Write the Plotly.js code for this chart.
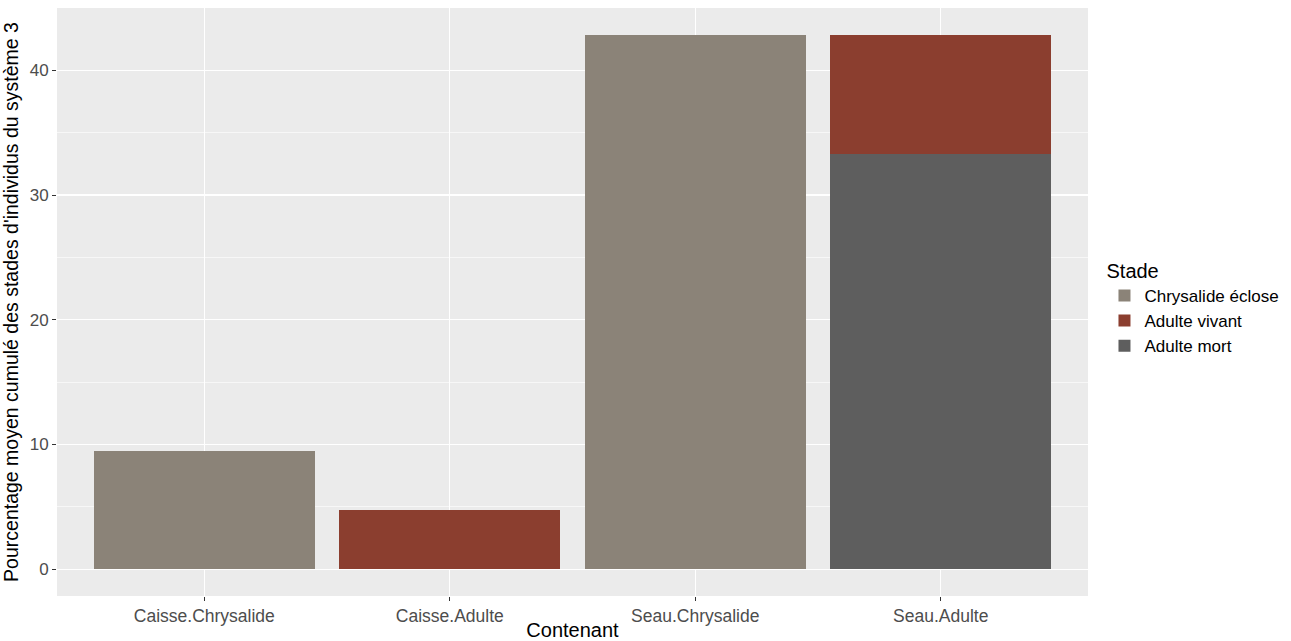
<!DOCTYPE html>
<html><head><meta charset="utf-8">
<script src="https://cdn.plot.ly/plotly-3.0.1.min.js"></script>
<style>body{margin:0;background:#fff}#chart{width:1291px;height:641px}</style>
</head><body><div id="chart"></div>
<script>
const categories = ["Caisse.Chrysalide", "Caisse.Adulte", "Seau.Chrysalide", "Seau.Adulte"];
const chrysalideEclose = [9.52, 0, 42.86, 0];
const adulteVivant = [0, 4.76, 0, 9.52];
const adulteMort = [0, 0, 0, 33.33];

const mk = (name, y, color, rank) => ({
  type: 'bar', name: name, x: categories, y: y, width: 0.9,
  marker: {color: color, line: {width: 0}}, legendrank: rank,
  hoverinfo: 'x+y+name'
});

const data = [
  mk('Adulte mort', adulteMort, '#5E5E5E', 3),
  mk('Adulte vivant', adulteVivant, '#8B3E2F', 2),
  mk('Chrysalide éclose', chrysalideEclose, '#8B8378', 1)
];

const layout = {
  width: 1291, height: 641,
  margin: {l: 57, r: 202, t: 8, b: 45},
  barmode: 'stack', bargap: 0.1,
  paper_bgcolor: '#fff', plot_bgcolor: '#EBEBEB',
  font: {family: 'Liberation Sans, Arial, sans-serif', color: '#000'},
  xaxis: {
    type: 'category', range: [-0.6, 3.6],
    showgrid: true, gridcolor: '#fff', gridwidth: 1.3,
    ticks: 'outside', ticklen: 4, tickcolor: '#333', tickwidth: 1,
    tickfont: {size: 17.5, color: '#4D4D4D'},
    zeroline: false, showline: false,
    title: {text: 'Contenant', font: {size: 20, color: '#000'}, standoff: 1}
  },
  yaxis: {
    range: [-2.143, 45.0],
    tickvals: [0, 10, 20, 30, 40],
    showgrid: true, gridcolor: '#fff', gridwidth: 1.3,
    minor: {tickvals: [5, 15, 25, 35], showgrid: true, gridcolor: '#fff', gridwidth: 0.6, ticks: ''},
    ticks: 'outside', ticklen: 4, tickcolor: '#333', tickwidth: 1,
    tickfont: {size: 17, color: '#4D4D4D'},
    zeroline: false, showline: false,
    title: {text: "Pourcentage moyen cumulé des stades d'individus du système 3", font: {size: 19.5, color: '#000'}, standoff: 5}
  },
  showlegend: true,
  legend: {
    x: 1.015, xanchor: 'left', y: 0.49, yanchor: 'middle',
    title: {text: 'Stade', font: {size: 20, color: '#000'}},
    font: {size: 17, color: '#000'},
    traceorder: 'normal', itemwidth: 30, tracegroupgap: 0,
    bgcolor: 'rgba(0,0,0,0)'
  }
};

Plotly.newPlot('chart', data, layout, {displayModeBar: false, staticPlot: true});
</script></body></html>
